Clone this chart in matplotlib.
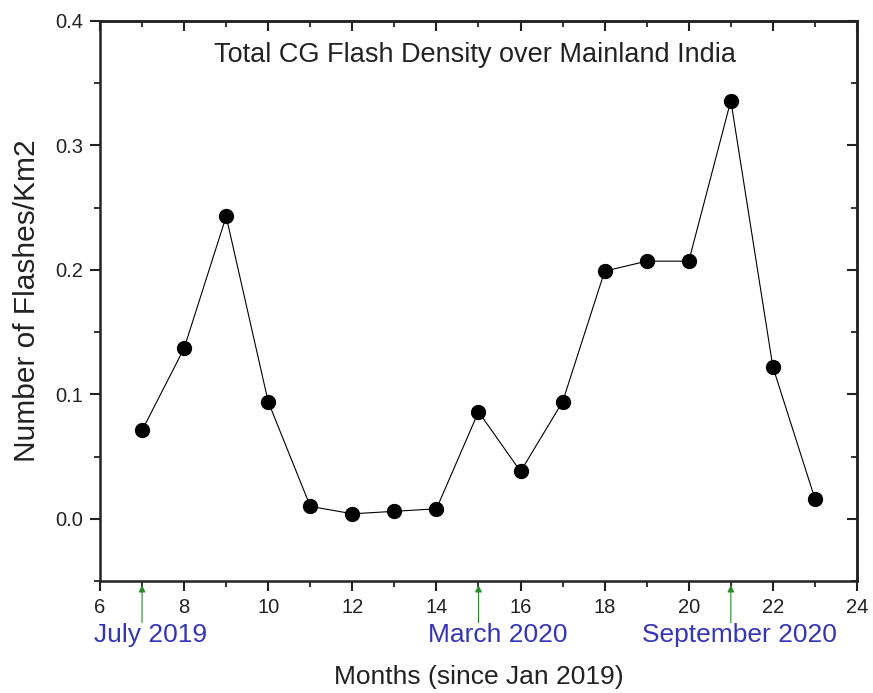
import matplotlib.pyplot as plt
from matplotlib.ticker import MultipleLocator

# data
months = [7, 8, 9, 10, 11, 12, 13, 14, 15, 16, 17, 18, 19, 20, 21, 22, 23]
density = [0.071, 0.137, 0.243, 0.094, 0.010, 0.004, 0.006, 0.008, 0.086,
           0.038, 0.094, 0.199, 0.207, 0.207, 0.336, 0.122, 0.016]

event_months = [7, 15, 21]
event_labels = ['July 2019', 'March 2020', 'September 2020']
label_shift = [6, 14, 6]  # points, text sits a bit right of the arrow

plt.rcParams['font.family'] = ['Liberation Sans', 'DejaVu Sans']
ink = '#222222'

fig = plt.figure(figsize=(8.73, 6.93), dpi=100)
ax = fig.add_axes([100 / 873, 1 - 581 / 693, 757 / 873, 560 / 693])

ax.plot(months, density, color='black', lw=0.8, marker='o', ms=10,
        mfc='black', mec='black')

ax.set_xlim(6, 24)
ax.set_ylim(-0.05, 0.4)
ax.xaxis.set_major_locator(MultipleLocator(2))
ax.xaxis.set_minor_locator(MultipleLocator(1))
ax.set_yticks([0.0, 0.1, 0.2, 0.3, 0.4])
ax.set_yticklabels(['0.0', '0.1', '0.2', '0.3', '0.4'])
ax.yaxis.set_minor_locator(MultipleLocator(0.05))

for s in ax.spines.values():
    s.set_linewidth(1.8)
    s.set_color(ink)

ax.tick_params(which='major', length=7, width=1.5, labelsize=14.5,
               colors=ink, pad=5)
ax.tick_params(which='minor', length=4, width=1.3, colors=ink)

# mirrored ticks on top/right point inwards
ax2 = ax.secondary_xaxis('top')
ax2.xaxis.set_major_locator(MultipleLocator(2))
ax2.xaxis.set_minor_locator(MultipleLocator(1))
ax2.tick_params(which='major', direction='in', length=7, width=1.5,
                labeltop=False, colors=ink)
ax2.tick_params(which='minor', direction='in', length=4, width=1.3,
                colors=ink)
ax3 = ax.secondary_yaxis('right')
ax3.yaxis.set_major_locator(MultipleLocator(0.1))
ax3.yaxis.set_minor_locator(MultipleLocator(0.05))
ax3.tick_params(which='major', direction='in', length=7, width=1.5,
                labelright=False, colors=ink)
ax3.tick_params(which='minor', direction='in', length=4, width=1.3,
                colors=ink)
for a in (ax2, ax3):
    for s in a.spines.values():
        s.set_linewidth(1.8)
        s.set_color(ink)

ax.text(0.495, 0.939, 'Total CG Flash Density over Mainland India',
        transform=ax.transAxes, ha='center', va='center', fontsize=19.5,
        color=ink)

for m, lab, dx in zip(event_months, event_labels, label_shift):
    ax.annotate('', xy=(m, -0.05), xycoords='data',
                xytext=(0, -30), textcoords='offset points',
                arrowprops=dict(arrowstyle='-|>', color='#2a8a2a', lw=0.8,
                                mutation_scale=10, shrinkA=0, shrinkB=3),
                annotation_clip=False)
    ax.annotate(lab, xy=(m, -0.05), xycoords='data',
                xytext=(dx, -39), textcoords='offset points',
                ha='center', va='center', fontsize=19, color='#3535b5',
                annotation_clip=False)

ax.set_xlabel('Months (since Jan 2019)', fontsize=19, color=ink)
ax.xaxis.set_label_coords(0.5, -0.15)
ax.set_ylabel('Number of Flashes/Km2', fontsize=21.5, color=ink)
ax.yaxis.set_label_coords(-0.078, 0.5)

fig.savefig('out.png', dpi=100)
